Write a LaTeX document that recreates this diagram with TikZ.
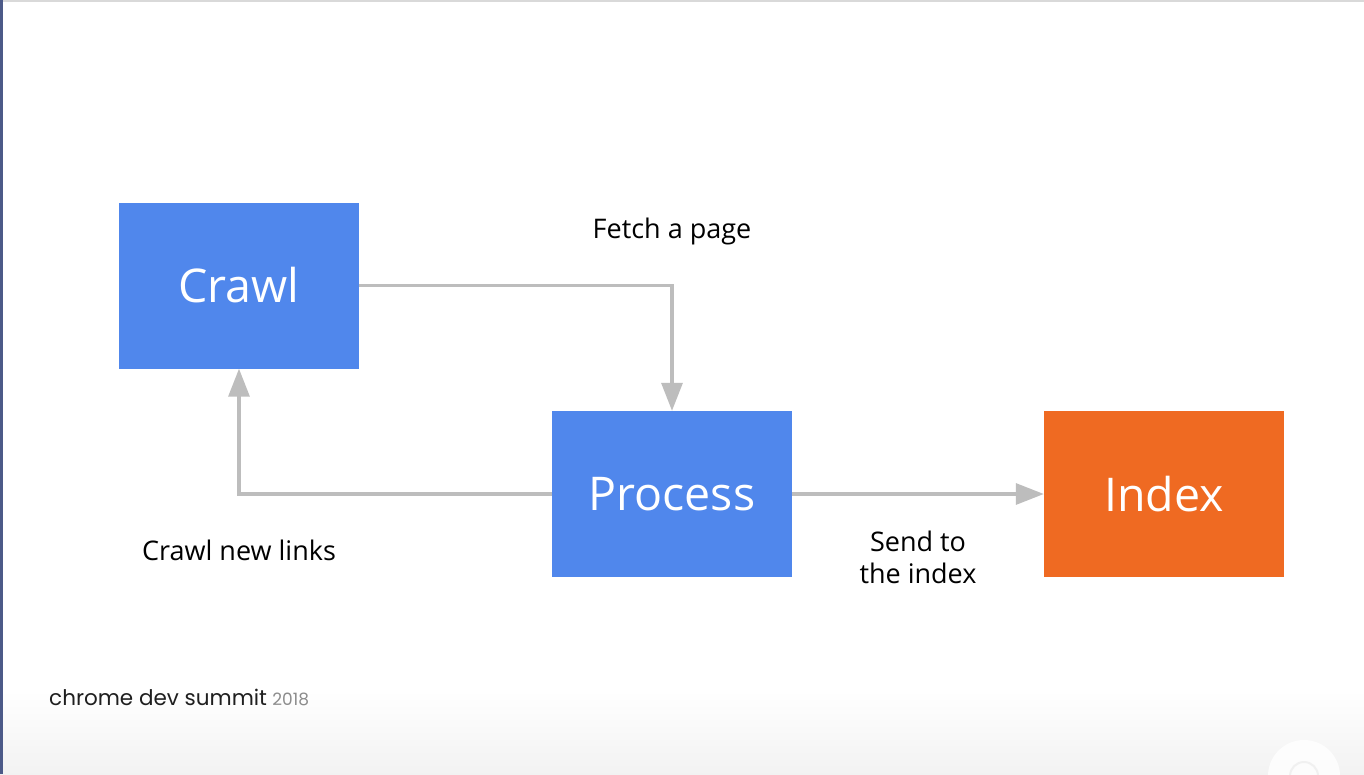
\documentclass[tikz,border=0pt]{standalone}
\usepackage{fontspec}
\setmainfont{Open Sans}
\newfontfamily\brandfont{Poppins}
\usetikzlibrary{arrows.meta}
\definecolor{stepblue}{HTML}{5087EC}
\definecolor{steporange}{HTML}{EF6A22}
\definecolor{flowgray}{HTML}{BDBDBD}
\definecolor{edgebar}{HTML}{4C5A88}
\begin{document}
\begin{tikzpicture}[x=1pt,y=-1pt,
  stepbox/.style={minimum width=240pt,minimum height=166pt,inner sep=0pt,
    text=white,font=\fontsize{46.5}{50}\selectfont},
  flow/.style={draw=flowgray,line width=3.2pt,
    -{Triangle[length=28pt,width=21pt]}},
  tag/.style={font=\fontsize{27}{32}\selectfont,text=black,align=center}]
% page and frame
\useasboundingbox (0,0) rectangle (1364,774);
\fill[white] (0,0) rectangle (1364,774);
\shade[top color=white,bottom color=black!5] (0,690) rectangle (1364,774);
\fill[black!15] (0,0) rectangle (1364,1.5);
\fill[edgebar] (0,0) rectangle (2.5,774);
% faint logo in the corner
\begin{scope}
\clip (0,0) rectangle (1364,774);
\fill[white,opacity=0.8] (1304,776) circle (36);
\draw[black!6,line width=2pt] (1304,776) circle (14);
\end{scope}
% steps
\node[stepbox,fill=stepblue] (crawl) at (239,285.5) {Crawl};
\node[stepbox,fill=stepblue] (process) at (672,494) {Process};
\node[stepbox,fill=steporange] (index) at (1164,494) {Index};
% connectors
\draw[flow] (crawl.east) -| (process.north);
\draw[flow] (process.west) -| (crawl.south);
\draw[flow] (process.east) -- (index.west);
% connector labels
\node[tag] (fetch) at (672,231) {Fetch a page};
\node[tag] (newlinks) at (239,550) {Crawl new links};
\node[tag] (send) at (918,557) {Send to\\the index};
% footer
\node[anchor=base west,inner sep=0pt,font=\brandfont\fontsize{21.5}{26}\selectfont,text=black!88] (brand) at (49,705) {chrome dev summit};
\node[anchor=base west,inner sep=0pt,font=\brandfont\fontsize{17}{20}\selectfont,text=black!45] (year) at ([xshift=5pt]brand.base east) {2018};
\end{tikzpicture}
\end{document}
